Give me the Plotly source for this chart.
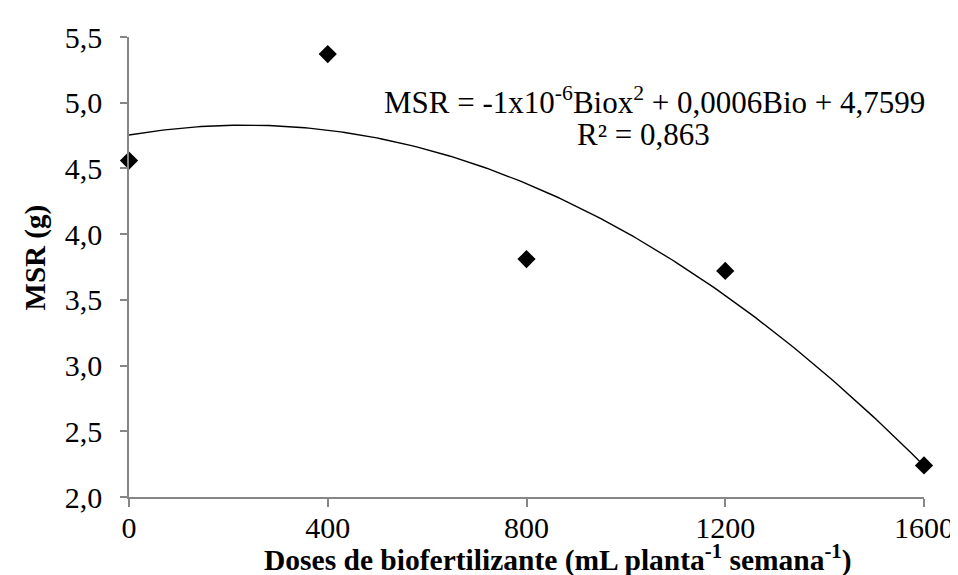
import numpy as np
import plotly.graph_objects as go

doses = [0, 400, 800, 1200, 1600]
msr = [4.56, 5.37, 3.81, 3.72, 2.24]
x_ticks = [0, 400, 800, 1200, 1600]
y_ticks = [2.0, 2.5, 3.0, 3.5, 4.0, 4.5, 5.0, 5.5]
y_ticktext = ["2,0", "2,5", "3,0", "3,5", "4,0", "4,5", "5,0", "5,5"]
eq_line1 = "MSR = -1x10<sup>-6</sup>Biox<sup>2</sup> + 0,0006Bio + 4,7599"
eq_line2 = "R² = 0,863"
x_title = "<b>Doses de biofertilizante (mL planta<sup>-1</sup> semana<sup>-1</sup>)</b>"
y_title = "<b>MSR (g)</b>"

# quadratic trendline fitted to the data (as the spreadsheet did)
coef = np.polyfit(doses, msr, 2)
xf = np.linspace(min(doses), max(doses), 200)
yf = np.polyval(coef, xf)

FONT = "Liberation Serif, Times New Roman, serif"
AX = "#868686"

fig = go.Figure()
fig.add_trace(go.Scatter(x=xf, y=yf, mode="lines",
                         line=dict(color="black", width=1.4),
                         hoverinfo="skip", showlegend=False))
fig.add_trace(go.Scatter(x=doses, y=msr, mode="markers",
                         marker=dict(symbol="diamond", size=14, color="black"),
                         showlegend=False, cliponaxis=False))

fig.add_annotation(x=0.318, y=0.863, xref="paper", yref="paper", xanchor="left",
                   yanchor="middle", text=eq_line1, showarrow=False,
                   font=dict(family=FONT, size=31, color="black"))
fig.add_annotation(x=0.561, y=0.787, xref="paper", yref="paper", xanchor="left",
                   yanchor="middle", text=eq_line2, showarrow=False,
                   font=dict(family=FONT, size=31, color="black"))
fig.add_annotation(x=-0.1175, y=0.52, xref="paper", yref="paper", xanchor="center",
                   yanchor="middle", text=y_title, textangle=-90, showarrow=False,
                   font=dict(family=FONT, size=29, color="black"))
fig.add_annotation(x=(255 - 121) / 804, y=-0.178, xref="paper", yref="paper",
                   xanchor="left", yanchor="bottom", text=x_title, showarrow=False,
                   font=dict(family=FONT, size=29.5, color="black"))

fig.update_layout(
    width=958, height=575,
    margin=dict(l=121, r=33, t=22, b=86),
    paper_bgcolor="white", plot_bgcolor="white",
    font=dict(family=FONT, size=30, color="black"),
    xaxis=dict(range=[0, 1600], tickvals=x_ticks, ticks="outside", ticklen=8,
               tickcolor=AX, tickwidth=1.5, showline=True, linecolor=AX, linewidth=1.5,
               showgrid=False, zeroline=False, ticklabelstandoff=-5,
               tickfont=dict(family=FONT, size=30, color="black")),
    yaxis=dict(range=[2.0, 5.5], tickvals=y_ticks, ticktext=y_ticktext, ticks="outside",
               ticklen=7, tickcolor=AX, tickwidth=1.5, showline=True, linecolor=AX,
               linewidth=1.5, showgrid=False, zeroline=False, ticklabelstandoff=12,
               tickfont=dict(family=FONT, size=30, color="black")),
)

fig.write_html("out.html")
